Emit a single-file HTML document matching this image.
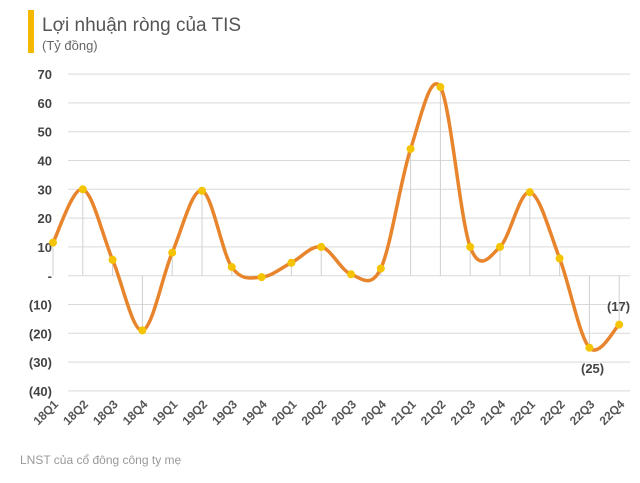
<!DOCTYPE html>
<html><head><meta charset="utf-8"><style>
body{margin:0;background:#fff;width:640px;height:478px;overflow:hidden;font-family:"Liberation Sans",sans-serif}
</style></head><body>
<svg id="s" width="640" height="478" xmlns="http://www.w3.org/2000/svg" font-family="Liberation Sans, sans-serif">
<rect x="28" y="10" width="6" height="43" fill="#f5b800"/>
<text x="42" y="31" font-size="19" fill="#555">Lợi nhuận ròng của TIS</text>
<text x="42" y="50" font-size="13" fill="#666">(Tỷ đồng)</text>
<g id="grid"></g>
<g id="drops"></g>
<path id="line" fill="none" stroke="#e8842c" stroke-width="3.5"/>
<g id="dots"></g>
<g id="xl"></g>
<text x="581" y="373" font-size="13" font-weight="bold" fill="#444">(25)</text>
<text x="607" y="311" font-size="13" font-weight="bold" fill="#444">(17)</text>
<text x="20" y="464" font-size="12" fill="#999">LNST của cổ đông công ty mẹ</text>
</svg>
<script>
var NS="http://www.w3.org/2000/svg";
function el(p,t,a,txt){var e=document.createElementNS(NS,t);for(var k in a)e.setAttribute(k,a[k]);if(txt)e.textContent=txt;document.getElementById(p).appendChild(e);return e;}
function Y(v){return 275.7-v*2.88;}
var yl={70:"70",60:"60",50:"50",40:"40",30:"30",20:"20",10:"10",0:"-",
"-10":"(10)","-20":"(20)","-30":"(30)","-40":"(40)"};
for(var v=70;v>=-40;v-=10){
 el("grid","line",{x1:68,x2:630,y1:Y(v),y2:Y(v),stroke:"#d9d9d9","stroke-width":1});
 el("grid","text",{x:52,y:Y(v)+5,"font-size":13,"font-weight":"bold",fill:"#444","text-anchor":"end"},yl[v]);
}
var vals=[11.5,30,5.5,-19,8,29.5,3,-0.5,4.5,10,0.5,2.5,44,65.5,10,10,29,6,-25,-17];
var labs=["18Q1","18Q2","18Q3","18Q4","19Q1","19Q2","19Q3","19Q4","20Q1","20Q2","20Q3","20Q4","21Q1","21Q2","21Q3","21Q4","22Q1","22Q2","22Q3","22Q4"];
var P=vals.map(function(v,i){return [53+i*29.8,Y(v)];});
var d="M"+P[0][0]+","+P[0][1];
for(var i=0;i<P.length-1;i++){
 var p0=P[i-1]||P[i],p1=P[i],p2=P[i+1],p3=P[i+2]||P[i+1],t=6;
 d+=" C"+(p1[0]+(p2[0]-p0[0])/t)+","+(p1[1]+(p2[1]-p0[1])/t)+" "+(p2[0]-(p3[0]-p1[0])/t)+","+(p2[1]-(p3[1]-p1[1])/t)+" "+p2[0]+","+p2[1];
}
document.getElementById("line").setAttribute("d",d);
P.forEach(function(p,i){
 el("drops","line",{x1:p[0],x2:p[0],y1:p[1],y2:Y(0),stroke:"#d0d0d0","stroke-width":1});
 el("dots","circle",{cx:p[0],cy:p[1],r:4,fill:"#f5c400"});
 el("xl","text",{x:p[0]+6,y:405,"font-size":12,"font-weight":"bold",fill:"#555","text-anchor":"end",transform:"rotate(-45 "+(p[0]+6)+" 405)"},labs[i]);
});
</script>
</body></html>
